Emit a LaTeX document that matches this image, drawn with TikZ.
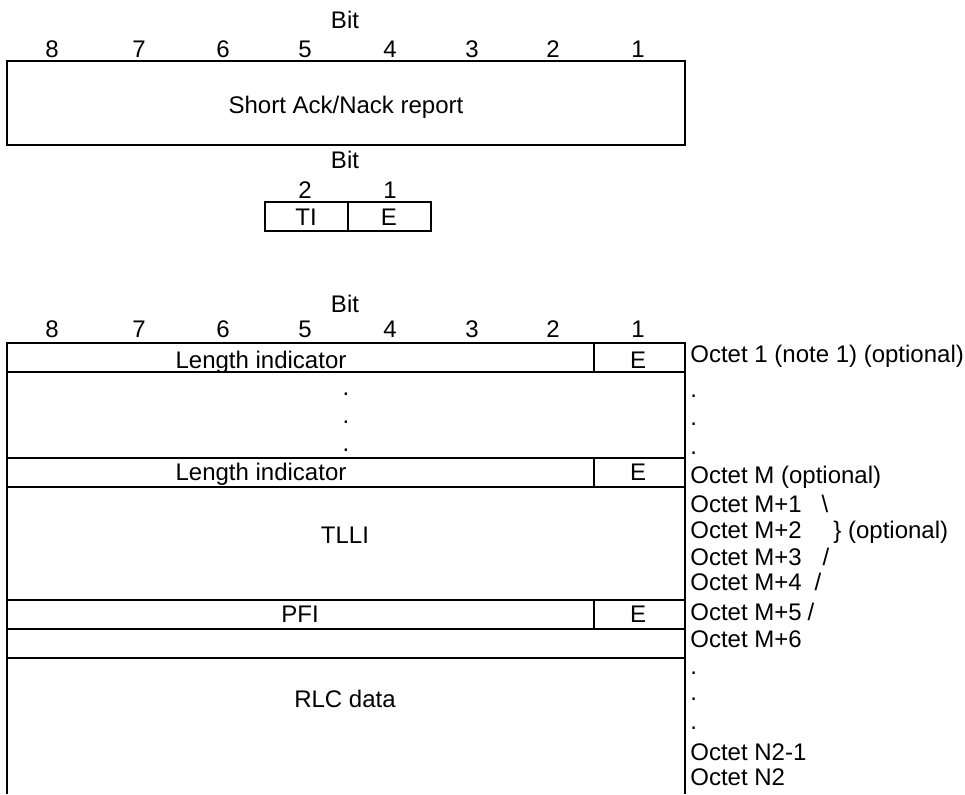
\documentclass[tikz,border=0pt]{standalone}
\usepackage{fontspec}
\setmainfont{Liberation Sans}

\begin{document}
\begin{tikzpicture}[x=0.5pt, y=-0.5pt,
    field/.style={line width=1.3pt},
    lbl/.style={inner sep=0pt, anchor=base, font=\fontsize{12}{14}\selectfont},
    octet/.style={lbl, anchor=base west}]

    \useasboundingbox (0,0) rectangle (965,794);

    % Short Ack/Nack report
    \node[lbl] (bitA) at (345,28) {Bit};
    \node[lbl] (a8) at (52,57) {8};
    \node[lbl] (a7) at (139,57) {7};
    \node[lbl] (a6) at (223,57) {6};
    \node[lbl] (a5) at (305,57) {5};
    \node[lbl] (a4) at (390,57) {4};
    \node[lbl] (a3) at (472,57) {3};
    \node[lbl] (a2) at (553,57) {2};
    \node[lbl] (a1) at (638,57) {1};
    \draw[field] (7,61) rectangle (685,145);
    \node[lbl] (ack) at (346,113) {Short Ack/Nack report};

    % TI and E bits
    \node[lbl] (bitB) at (345,168) {Bit};
    \node[lbl] (b2) at (305,198) {2};
    \node[lbl] (b1) at (390,198) {1};
    \draw[field] (265,202) rectangle (431,231);
    \draw[field] (348,202) -- (348,231);
    \node[lbl] (ti) at (306,225) {TI};
    \node[lbl] (e0) at (389,225) {E};

    % Header of the block
    \node[lbl] (bitC) at (345,312) {Bit};
    \node[lbl] (c8) at (52,337) {8};
    \node[lbl] (c7) at (139,337) {7};
    \node[lbl] (c6) at (223,337) {6};
    \node[lbl] (c5) at (305,337) {5};
    \node[lbl] (c4) at (390,337) {4};
    \node[lbl] (c3) at (472,337) {3};
    \node[lbl] (c2) at (553,337) {2};
    \node[lbl] (c1) at (638,337) {1};

    % Frame, open at the bottom
    \draw[field] (7,794) -- (7,343) -- (685,343) -- (685,794);
    \draw[field] (7,372) -- (685,372);
    \draw[field] (7,458) -- (685,458);
    \draw[field] (7,487) -- (685,487);
    \draw[field] (7,600) -- (685,600);
    \draw[field] (7,629) -- (685,629);
    \draw[field] (7,658) -- (685,658);

    % E bit column
    \draw[field] (594,343) -- (594,372);
    \draw[field] (594,458) -- (594,487);
    \draw[field] (594,600) -- (594,629);

    % Fields
    \node[lbl] (li1) at (261,368) {Length indicator};
    \node[lbl] (e1) at (638,368) {E};
    \node[lbl] (dotA) at (346,395) {.};
    \node[lbl] (dotB) at (346,423) {.};
    \node[lbl] (dotC) at (346,451) {.};
    \node[lbl] (li2) at (261,480) {Length indicator};
    \node[lbl] (e2) at (638,480) {E};
    \node[lbl] (tlli) at (345,543) {TLLI};
    \node[lbl] (pfi) at (300,622) {PFI};
    \node[lbl] (e3) at (638,622) {E};
    \node[lbl] (rlc) at (345,707) {RLC data};

    % Octet numbers
    \node[octet] (o1) at (690,362) {Octet 1 (note 1) (optional)};
    \node[octet] (odA) at (690,397) {.};
    \node[octet] (odB) at (690,425) {.};
    \node[octet] (odC) at (690,454) {.};
    \node[octet] (om) at (690,483) {Octet M (optional)};
    \node[octet] (om1) at (690,512) {Octet M+1};
    \node[lbl] (sl1) at (825,512) {\textbackslash};
    \node[octet] (om2) at (690,538) {Octet M+2};
    \node[octet] (opt) at (833,538) {\} (optional)};
    \node[octet] (om3) at (690,565) {Octet M+3};
    \node[lbl] (sl3) at (826,565) {/};
    \node[octet] (om4) at (690,590) {Octet M+4};
    \node[lbl] (sl4) at (818,590) {/};
    \node[octet] (om5) at (690,620) {Octet M+5};
    \node[lbl] (sl5) at (811,620) {/};
    \node[octet] (om6) at (690,647) {Octet M+6};
    \node[octet] (odD) at (690,674) {.};
    \node[octet] (odE) at (690,700) {.};
    \node[octet] (odF) at (690,729) {.};
    \node[octet] (on1) at (690,760) {Octet N2-1};
    \node[octet] (on) at (690,785) {Octet N2};

\end{tikzpicture}
\end{document}
